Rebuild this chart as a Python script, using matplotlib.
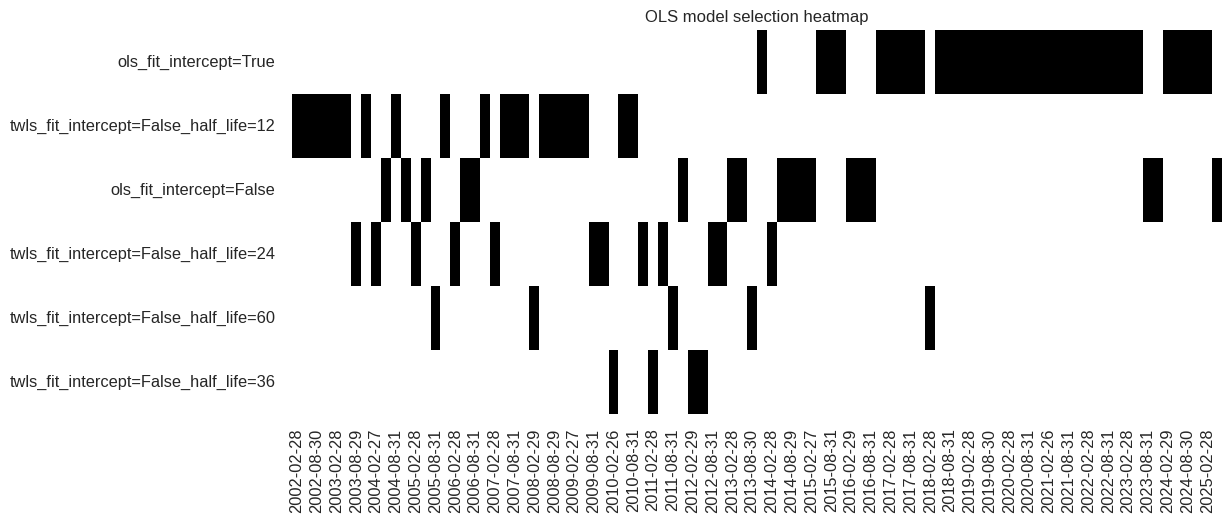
import numpy as np
import pandas as pd
import matplotlib
matplotlib.use("Agg")
import matplotlib.pyplot as plt
import seaborn as sns

# model names (heatmap rows, top to bottom)
models = [
    "ols_fit_intercept=True",
    "twls_fit_intercept=False_half_life=12",
    "ols_fit_intercept=False",
    "twls_fit_intercept=False_half_life=24",
    "twls_fit_intercept=False_half_life=60",
    "twls_fit_intercept=False_half_life=36",
]

# quarterly re-estimation dates (business month ends: Feb, May, Aug, Nov)
dates = pd.date_range("2002-02-01", periods=94, freq=pd.offsets.BMonthEnd(3))

# index of the selected model at each date
selected = [
    1, 1, 1, 1, 1, 1, 3, 1, 3, 2,
    1, 2, 3, 2, 4, 1, 3, 2, 2, 1,
    3, 1, 1, 1, 4, 1, 1, 1, 1, 1,
    3, 3, 5, 1, 1, 3, 5, 3, 4, 2,
    5, 5, 3, 3, 2, 2, 4, 0, 3, 2,
    2, 2, 2, 0, 0, 0, 2, 2, 2, 0,
    0, 0, 0, 0, 4, 0, 0, 0, 0, 0,
    0, 0, 0, 0, 0, 0, 0, 0, 0, 0,
    0, 0, 0, 0, 0, 0, 2, 2, 0, 0,
    0, 0, 0, 2,
]

labels = [d.strftime("%Y-%m-%d") for d in dates]
mat = np.zeros((len(models), len(dates)))
for j, k in enumerate(selected):
    mat[k, j] = 1
df = pd.DataFrame(mat, index=models, columns=labels)

sns.set_theme(style="white")
plt.rcParams["font.family"] = ["Liberation Sans", "DejaVu Sans"]

fig = plt.figure(figsize=(12.31, 5.23), dpi=100)
ax = fig.add_axes([0.2372, 0.2084, 0.7555, 0.7342])
sns.heatmap(df, cmap="binary", cbar=False, ax=ax, xticklabels=False, yticklabels=True)

ax.set_xticks(np.arange(0, len(labels), 2) + 0.5)
ax.set_xticklabels(labels[::2], rotation=90)
ax.set_yticklabels(models, rotation=0)
ax.tick_params(axis="both", length=0, labelsize=11.8)
ax.tick_params(axis="x", pad=10.5)
ax.tick_params(axis="y", pad=12)
ax.set_title("OLS model selection heatmap", fontsize=12)

fig.savefig("out.png", dpi=100)
